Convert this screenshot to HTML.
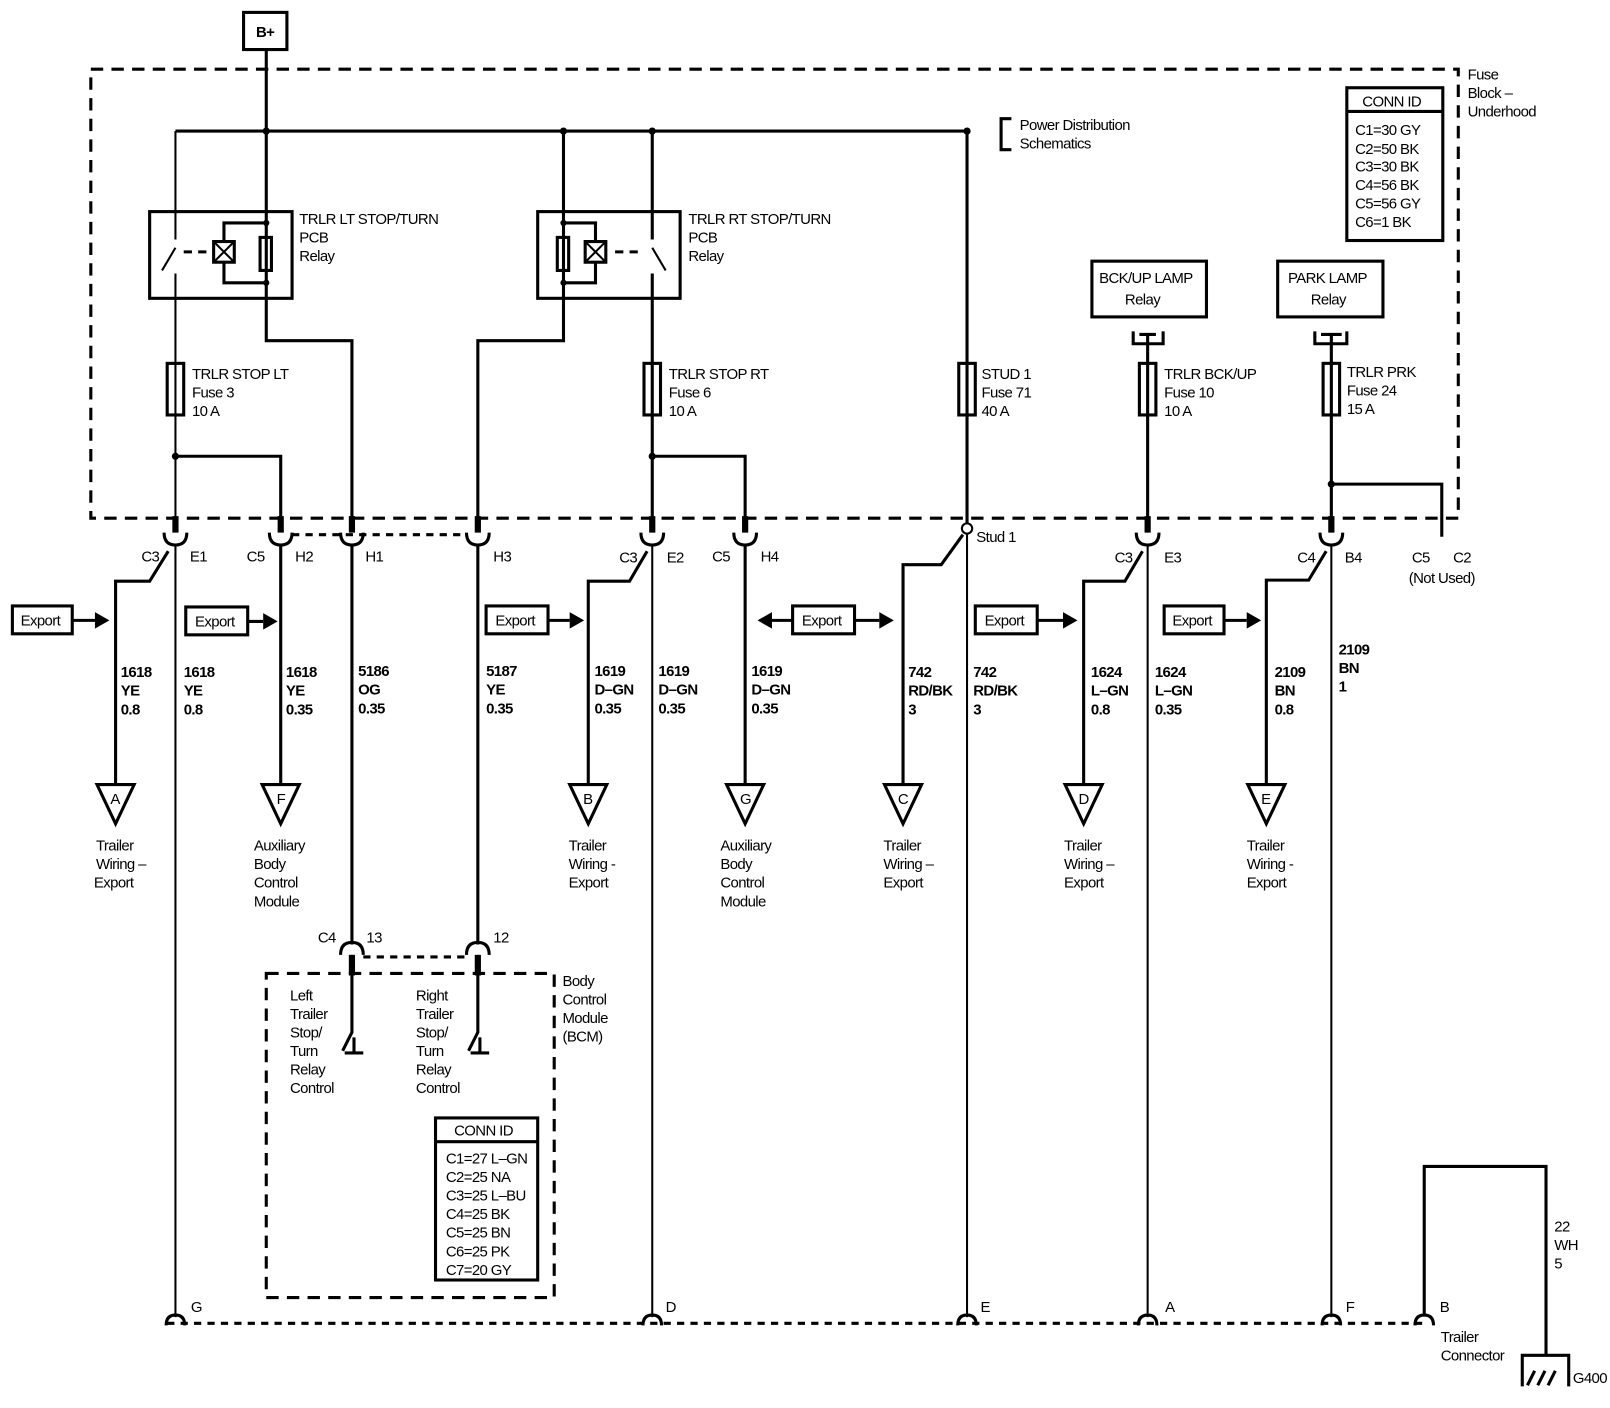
<!DOCTYPE html>
<html><head><meta charset="utf-8"><style>
html,body{margin:0;padding:0;background:#fff}
svg{display:block}
text{font-family:"Liberation Sans",sans-serif;font-size:14.5px;fill:#000;letter-spacing:-0.6px}
.w{stroke:#000;stroke-width:3;fill:none}
.t{stroke:#000;stroke-width:2;fill:none}
.d{stroke:#000;stroke-width:3;fill:none;stroke-dasharray:12 8}
.dd{stroke:#000;stroke-width:3;fill:none;stroke-dasharray:7 6}
</style></head><body>
<svg width="1610" height="1408" viewBox="0 0 1560 1364" preserveAspectRatio="none" xmlns="http://www.w3.org/2000/svg">
<!-- B+ -->
<rect x="236" y="12" width="42" height="36" class="w" stroke-width="4"/>
<text x="248" y="36" font-weight="bold">B+</text>
<!-- fuse block -->
<rect x="88" y="67" width="1325" height="435" class="d"/>
<text x="1422" y="77">Fuse</text><text x="1422" y="95">Block –</text><text x="1422" y="113">Underhood</text>
<!-- bus -->
<path class="w" d="M258 48V330H341V502 M170 127H937"/>
<circle cx="258" cy="127" r="3.5"/><circle cx="546" cy="127" r="3.5"/><circle cx="632" cy="127" r="3.5"/><circle cx="937" cy="127" r="3.5"/>
<path class="w" d="M980 115H970V145H980"/>
<text x="988" y="126">Power Distribution</text><text x="988" y="144">Schematics</text>
<!-- CONN ID -->
<rect x="1305" y="85" width="93" height="148" class="w"/>
<line x1="1305" y1="108" x2="1398" y2="108" class="w"/>
<text x="1320" y="103">CONN ID</text>
<text x="1313" y="131">C1=30 GY</text><text x="1313" y="149">C2=50 BK</text><text x="1313" y="166">C3=30 BK</text><text x="1313" y="184">C4=56 BK</text><text x="1313" y="202">C5=56 GY</text><text x="1313" y="220">C6=1 BK</text>
<!-- LT relay -->
<rect x="145" y="205" width="138" height="84" class="w"/>
<path class="t" d="M170 127V232 M170 265V502 M157 262L170 240"/>
<path class="w" d="M178 244H206" stroke-dasharray="8 6"/>
<rect x="207" y="234" width="20" height="20" class="w"/><path class="t" d="M207 234L227 254M227 234L207 254"/>
<path class="w" d="M217 234V216H258M217 254V274H258"/>
<rect x="252" y="230" width="11" height="32" class="w" fill="#fff"/>
<circle cx="258" cy="216" r="3"/><circle cx="258" cy="274" r="3"/>
<text x="290" y="217">TRLR LT STOP/TURN</text><text x="290" y="235">PCB</text><text x="290" y="253">Relay</text>
<!-- RT relay -->
<rect x="521" y="205" width="138" height="84" class="w"/>
<path class="w" d="M546 127V330H463V502"/>
<path class="w" d="M632 127V232 M632 265V502"/><path class="t" d="M645 262L632 240"/>
<path class="w" d="M596 244H624" stroke-dasharray="8 6"/>
<rect x="567" y="234" width="20" height="20" class="w"/><path class="t" d="M567 234L587 254M587 234L567 254"/>
<path class="w" d="M577 234V216H546M577 254V274H546"/>
<rect x="540" y="230" width="11" height="32" class="w" fill="#fff"/>
<circle cx="546" cy="216" r="3"/><circle cx="546" cy="274" r="3"/>
<text x="667" y="217">TRLR RT STOP/TURN</text><text x="667" y="235">PCB</text><text x="667" y="253">Relay</text>
<!-- fuses -->
<g class="w" fill="#fff">
<rect x="162" y="352" width="16" height="50"/><rect x="624" y="352" width="16" height="50"/><rect x="929" y="352" width="16" height="50"/><rect x="1104" y="352" width="16" height="50"/><rect x="1282" y="352" width="16" height="50"/>
</g>
<text x="186" y="367">TRLR STOP LT</text><text x="186" y="385">Fuse 3</text><text x="186" y="403">10 A</text>
<text x="648" y="367">TRLR STOP RT</text><text x="648" y="385">Fuse 6</text><text x="648" y="403">10 A</text>
<text x="951" y="367">STUD 1</text><text x="951" y="385">Fuse 71</text><text x="951" y="403">40 A</text>
<text x="1128" y="367">TRLR BCK/UP</text><text x="1128" y="385">Fuse 10</text><text x="1128" y="403">10 A</text>
<text x="1305" y="365">TRLR PRK</text><text x="1305" y="383">Fuse 24</text><text x="1305" y="401">15 A</text>
<path class="w" d="M170 442H272V502 M632 442H722V502 M937 127V510 M1112 325V502 M1290 325V502 M1290 469H1397V520"/>
<circle cx="170" cy="442" r="3.5"/><circle cx="632" cy="442" r="3.5"/><circle cx="1290" cy="469" r="3.5"/>
<!-- relays boxes -->
<rect x="1058" y="253" width="111" height="54" class="w" stroke-width="5"/>
<text x="1065" y="274">BCK/UP LAMP</text><text x="1090" y="295">Relay</text>
<rect x="1238" y="253" width="102" height="54" class="w" stroke-width="5"/>
<text x="1248" y="274">PARK LAMP</text><text x="1270" y="295">Relay</text>
<path class="w" d="M1098 321V333H1127V321 M1104 324H1120 M1274 321V333H1305V321 M1280 324H1300"/>
<!-- top connectors -->
<g class="w">
<path d="M159 516q0 12 11 12q11 0 11-12"/><path d="M261 516q0 12 11 12q11 0 11-12"/><path d="M330 516q0 12 11 12q11 0 11-12"/><path d="M452 516q0 12 11 12q11 0 11-12"/><path d="M621 516q0 12 11 12q11 0 11-12"/><path d="M711 516q0 12 11 12q11 0 11-12"/><path d="M1101 516q0 12 11 12q11 0 11-12"/><path d="M1279 516q0 12 11 12q11 0 11-12"/>
</g>
<g stroke="#000" stroke-width="6"><path d="M170 500V516M272 500V516M341 500V516M463 500V516M632 500V516M722 500V516M1112 500V516M1290 500V516"/></g>
<path class="dd" d="M283 518H452"/>
<circle cx="937" cy="512" r="5" fill="#fff" stroke="#000" stroke-width="2"/>
<text x="946" y="525">Stud 1</text>
<text x="137" y="544">C3</text><text x="184" y="544">E1</text><text x="239" y="544">C5</text><text x="286" y="544">H2</text><text x="354" y="544">H1</text><text x="478" y="544">H3</text>
<text x="600" y="545">C3</text><text x="646" y="545">E2</text><text x="690" y="544">C5</text><text x="737" y="544">H4</text>
<text x="1080" y="545">C3</text><text x="1128" y="545">E3</text><text x="1257" y="545">C4</text><text x="1303" y="545">B4</text><text x="1368" y="545">C5</text><text x="1408" y="545">C2</text><text x="1365" y="565">(Not Used)</text>
<!-- main wires down -->
<path class="t" d="M170 528V1276 M632 528V1276 M937 517V1276 M1112 528V1276 M1290 528V1276"/>
<path class="w" d="M272 528V760 M722 528V760 M341 528V915 M463 528V915"/>
<!-- branches -->
<path class="w" d="M163 534L145 563H112V760 M627 534L610 563H570V760 M933 518L912 547H875V760 M1107 534L1090 563H1050V760 M1285 534L1268 562H1227V760"/>
<!-- triangles -->
<g class="w" fill="#fff">
<path d="M94 760H130L112 798Z"/><path d="M254 760H290L272 798Z"/><path d="M552 760H588L570 798Z"/><path d="M704 760H740L722 798Z"/><path d="M857 760H893L875 798Z"/><path d="M1032 760H1068L1050 798Z"/><path d="M1209 760H1245L1227 798Z"/>
</g>
<text x="107" y="779">A</text><text x="268" y="779">F</text><text x="565" y="779">B</text><text x="717" y="779">G</text><text x="870" y="779">C</text><text x="1045" y="779">D</text><text x="1222" y="779">E</text>
<!-- exports -->
<g class="w" stroke-width="4" fill="#fff">
<rect x="12" y="587" width="58" height="27"/><rect x="180" y="588" width="60" height="27"/><rect x="471" y="587" width="60" height="27"/><rect x="768" y="587" width="60" height="27"/><rect x="945" y="587" width="60" height="27"/><rect x="1128" y="587" width="58" height="27"/>
</g>
<text x="20" y="606">Export</text><text x="189" y="607">Export</text><text x="480" y="606">Export</text><text x="777" y="606">Export</text><text x="954" y="606">Export</text><text x="1136" y="606">Export</text>
<path class="w" d="M70 601H92M240 602H255M531 601H552M828 601H852M768 601H748M1005 601H1030M1186 601H1208"/>
<g><path d="M92 593L106 601L92 609Z"/><path d="M255 594L269 602L255 610Z"/><path d="M552 593L566 601L552 609Z"/><path d="M852 593L866 601L852 609Z"/><path d="M748 593L734 601L748 609Z"/><path d="M1030 593L1044 601L1030 609Z"/><path d="M1208 593L1222 601L1208 609Z"/></g>
<!-- wire labels -->
<g font-weight="bold">
<text x="117" y="656">1618</text><text x="117" y="674">YE</text><text x="117" y="692">0.8</text>
<text x="178" y="656">1618</text><text x="178" y="674">YE</text><text x="178" y="692">0.8</text>
<text x="277" y="656">1618</text><text x="277" y="674">YE</text><text x="277" y="692">0.35</text>
<text x="347" y="655">5186</text><text x="347" y="673">OG</text><text x="347" y="691">0.35</text>
<text x="471" y="655">5187</text><text x="471" y="673">YE</text><text x="471" y="691">0.35</text>
<text x="576" y="655">1619</text><text x="576" y="673">D–GN</text><text x="576" y="691">0.35</text>
<text x="638" y="655">1619</text><text x="638" y="673">D–GN</text><text x="638" y="691">0.35</text>
<text x="728" y="655">1619</text><text x="728" y="673">D–GN</text><text x="728" y="691">0.35</text>
<text x="880" y="656">742</text><text x="880" y="674">RD/BK</text><text x="880" y="692">3</text>
<text x="943" y="656">742</text><text x="943" y="674">RD/BK</text><text x="943" y="692">3</text>
<text x="1057" y="656">1624</text><text x="1057" y="674">L–GN</text><text x="1057" y="692">0.8</text>
<text x="1119" y="656">1624</text><text x="1119" y="674">L–GN</text><text x="1119" y="692">0.35</text>
<text x="1235" y="656">2109</text><text x="1235" y="674">BN</text><text x="1235" y="692">0.8</text>
<text x="1297" y="634">2109</text><text x="1297" y="652">BN</text><text x="1297" y="670">1</text>
</g>
<!-- destination labels -->
<text x="93" y="824">Trailer</text><text x="93" y="842">Wiring –</text><text x="91" y="860">Export</text>
<text x="246" y="824">Auxiliary</text><text x="246" y="842">Body</text><text x="246" y="860">Control</text><text x="246" y="878">Module</text>
<text x="551" y="824">Trailer</text><text x="551" y="842">Wiring -</text><text x="551" y="860">Export</text>
<text x="698" y="824">Auxiliary</text><text x="698" y="842">Body</text><text x="698" y="860">Control</text><text x="698" y="878">Module</text>
<text x="856" y="824">Trailer</text><text x="856" y="842">Wiring –</text><text x="856" y="860">Export</text>
<text x="1031" y="824">Trailer</text><text x="1031" y="842">Wiring –</text><text x="1031" y="860">Export</text>
<text x="1208" y="824">Trailer</text><text x="1208" y="842">Wiring -</text><text x="1208" y="860">Export</text>
<!-- BCM connectors -->
<path class="w" d="M330 925q0-12 11-12q11 0 11 12 M452 925q0-12 11-12q11 0 11 12"/>
<path class="dd" d="M352 927H452"/>
<text x="308" y="913">C4</text><text x="355" y="913">13</text><text x="478" y="913">12</text>
<rect x="258" y="943" width="279" height="314" class="d"/>
<text x="545" y="955">Body</text><text x="545" y="973">Control</text><text x="545" y="991">Module</text><text x="545" y="1009">(BCM)</text>
<path class="w" d="M341 925V1000L332 1018 M463 925V1000L454 1018"/>
<path stroke="#000" stroke-width="6" d="M341 925V945M463 925V945"/>
<path class="w" d="M343 1005V1020M334 1020H352M465 1005V1020M456 1020H474"/>
<text x="281" y="969">Left</text><text x="281" y="987">Trailer</text><text x="281" y="1005">Stop/</text><text x="281" y="1023">Turn</text><text x="281" y="1041">Relay</text><text x="281" y="1059">Control</text>
<text x="403" y="969">Right</text><text x="403" y="987">Trailer</text><text x="403" y="1005">Stop/</text><text x="403" y="1023">Turn</text><text x="403" y="1041">Relay</text><text x="403" y="1059">Control</text>
<rect x="422" y="1083" width="99" height="157" class="w" stroke-width="4"/>
<line x1="422" y1="1106" x2="521" y2="1106" class="w"/>
<text x="440" y="1100">CONN ID</text>
<text x="432" y="1127">C1=27 L–GN</text><text x="432" y="1145">C2=25 NA</text><text x="432" y="1163">C3=25 L–BU</text><text x="432" y="1181">C4=25 BK</text><text x="432" y="1199">C5=25 BN</text><text x="432" y="1217">C6=25 PK</text><text x="432" y="1235">C7=20 GY</text>
<!-- bottom connector -->
<path class="dd" d="M162 1282H1380"/>
<g class="w">
<path d="M161 1284q0-10 9-10q9 0 9 10"/><path d="M623 1284q0-10 9-10q9 0 9 10"/><path d="M928 1284q0-10 9-10q9 0 9 10"/><path d="M1103 1284q0-10 9-10q9 0 9 10"/><path d="M1281 1284q0-10 9-10q9 0 9 10"/><path d="M1371 1284q0-10 9-10q9 0 9 10"/>
</g>
<text x="185" y="1271">G</text><text x="645" y="1271">D</text><text x="950" y="1271">E</text><text x="1129" y="1271">A</text><text x="1304" y="1271">F</text><text x="1395" y="1271">B</text>
<text x="1396" y="1300">Trailer</text><text x="1396" y="1318">Connector</text>
<path class="w" d="M1380 1274V1130H1498V1312"/>
<text x="1506" y="1193">22</text><text x="1506" y="1211">WH</text><text x="1506" y="1229">5</text>
<path class="w" d="M1475 1343V1313H1520V1343M1480 1342L1487 1328M1490 1342L1497 1328M1500 1342L1507 1328"/>
<text x="1524" y="1340">G400</text>
</svg>
</body></html>
